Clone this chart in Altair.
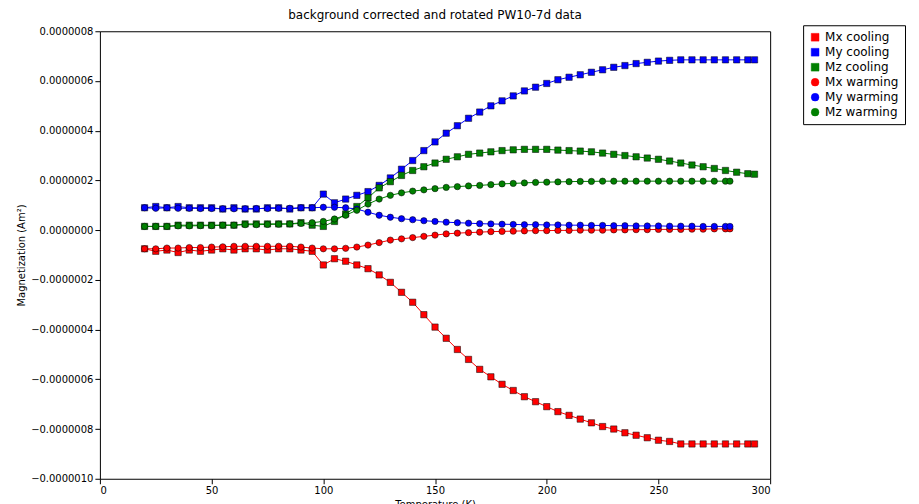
import altair as alt
import pandas as pd

# values in units of 1e-7 Am^2
T_COOL = list(range(20, 291, 5)) + [293]
T_WARM = list(range(20, 281, 5)) + [282]

MX_COOL = [-0.75, -0.85, -0.8, -0.9, -0.8, -0.85, -0.8, -0.75, -0.8, -0.75, -0.75, -0.8, -0.75, -0.75, -0.8, -0.85,
           -1.4, -1.15, -1.25, -1.4, -1.55, -1.8, -2.1, -2.5, -2.9, -3.4, -3.9, -4.35, -4.8, -5.2, -5.6, -5.9,
           -6.2, -6.45, -6.7, -6.9, -7.1, -7.3, -7.45, -7.6, -7.75, -7.9, -8.0, -8.15, -8.25, -8.35, -8.45, -8.5,
           -8.6, -8.6, -8.6, -8.6, -8.6, -8.6, -8.6, -8.6]
MY_COOL = [0.9, 0.95, 0.9, 0.95, 0.9, 0.9, 0.9, 0.85, 0.9, 0.85, 0.85, 0.9, 0.9, 0.85, 0.9, 0.9,
           1.45, 1.1, 1.25, 1.4, 1.55, 1.8, 2.1, 2.45, 2.8, 3.2, 3.55, 3.9, 4.2, 4.5, 4.75, 5.0,
           5.2, 5.4, 5.6, 5.75, 5.9, 6.05, 6.15, 6.25, 6.35, 6.45, 6.55, 6.62, 6.7, 6.75, 6.8, 6.83,
           6.85, 6.85, 6.85, 6.85, 6.85, 6.85, 6.85, 6.85]
MZ_COOL = [0.15, 0.15, 0.15, 0.2, 0.2, 0.2, 0.2, 0.2, 0.2, 0.25, 0.25, 0.25, 0.25, 0.25, 0.3, 0.2,
           0.15, 0.35, 0.65, 0.95, 1.3, 1.7, 1.95, 2.2, 2.4, 2.55, 2.7, 2.85, 2.95, 3.05, 3.1, 3.15,
           3.2, 3.23, 3.25, 3.25, 3.25, 3.22, 3.2, 3.18, 3.15, 3.1, 3.05, 3.0, 2.95, 2.9, 2.85, 2.78,
           2.7, 2.62, 2.55, 2.48, 2.4, 2.33, 2.27, 2.25]
MX_WARM = [-0.75, -0.75, -0.72, -0.72, -0.7, -0.7, -0.68, -0.67, -0.65, -0.65, -0.65, -0.65, -0.65, -0.65, -0.68, -0.72,
           -0.75, -0.75, -0.73, -0.68, -0.6, -0.5, -0.4, -0.35, -0.3, -0.25, -0.2, -0.15, -0.12, -0.1, -0.08, -0.06,
           -0.05, -0.04, -0.03, -0.02, -0.02, -0.01, -0.01, 0.0, 0.0, 0.0, 0.01, 0.01, 0.02, 0.02, 0.03, 0.03,
           0.03, 0.04, 0.04, 0.05, 0.05, 0.05]
MY_WARM = [0.9, 0.88, 0.9, 0.88, 0.88, 0.87, 0.87, 0.86, 0.86, 0.86, 0.87, 0.87, 0.88, 0.88, 0.9, 0.9,
           0.92, 0.92, 0.9, 0.85, 0.72, 0.6, 0.52, 0.46, 0.42, 0.38, 0.35, 0.32, 0.3, 0.28, 0.26, 0.25,
           0.24, 0.23, 0.22, 0.22, 0.21, 0.21, 0.2, 0.2, 0.19, 0.19, 0.18, 0.18, 0.17, 0.17, 0.17, 0.16,
           0.16, 0.16, 0.15, 0.15, 0.15, 0.15]
MZ_WARM = [0.15, 0.15, 0.15, 0.17, 0.17, 0.18, 0.18, 0.2, 0.2, 0.22, 0.22, 0.23, 0.24, 0.25, 0.27, 0.3,
           0.35, 0.45, 0.6, 0.8, 1.05, 1.25, 1.4, 1.5, 1.57, 1.62, 1.67, 1.72, 1.75, 1.78, 1.8, 1.83,
           1.86, 1.88, 1.9, 1.92, 1.93, 1.94, 1.95, 1.96, 1.96, 1.97, 1.97, 1.97, 1.97, 1.97, 1.97, 1.97,
           1.97, 1.97, 1.97, 1.97, 1.97, 1.97]

SERIES = ["Mx cooling", "My cooling", "Mz cooling", "Mx warming", "My warming", "Mz warming"]
COLORS = ["#ff0000", "#0000ff", "#008000", "#ff0000", "#0000ff", "#008000"]
SHAPES = ["square", "square", "square", "circle", "circle", "circle"]

rows = []
for name, temps, vals in [
    ("Mx cooling", T_COOL, MX_COOL), ("My cooling", T_COOL, MY_COOL), ("Mz cooling", T_COOL, MZ_COOL),
    ("Mx warming", T_WARM, MX_WARM), ("My warming", T_WARM, MY_WARM), ("Mz warming", T_WARM, MZ_WARM),
]:
    for t, v in zip(temps, vals):
        rows.append({"serie": name, "T": t, "M": v * 1e-7})
df = pd.DataFrame(rows)

color = alt.Color("serie:N", sort=SERIES, scale=alt.Scale(domain=SERIES, range=COLORS),
                  legend=alt.Legend(title=None, orient="none", legendX=704, legendY=-6,
                                    fillColor="white", strokeColor="black", padding=6,
                                    labelFontSize=12, symbolSize=60, rowPadding=3,
                                    labelFont="DejaVu Sans", symbolStrokeColor="black",
                                    symbolStrokeWidth=0.5))
shape = alt.Shape("serie:N", sort=SERIES, scale=alt.Scale(domain=SERIES, range=SHAPES), legend=None)
x = alt.X("T:Q", title="Temperature (K)", scale=alt.Scale(domain=[0, 300], nice=False),
          axis=alt.Axis(values=list(range(0, 301, 50)), grid=False))
y = alt.Y("M:Q", title="Magnetization (Am\u00b2)", scale=alt.Scale(domain=[-1e-6, 8e-7], nice=False),
          axis=alt.Axis(values=[i * 2e-7 for i in range(-5, 5)], format=".7f", grid=False))

base = alt.Chart(df)
lines = base.mark_line(strokeWidth=1).encode(x=x, y=y, color=color, detail="serie:N")
points = base.mark_point(filled=True, size=40, stroke="black", strokeWidth=0.5, opacity=1).encode(
    x=x, y=y, color=color, shape=shape)

chart = (lines + points).properties(
    width=671, height=448,
    title=alt.TitleParams("background corrected and rotated PW10-7d data", fontSize=12,
                          fontWeight="normal", font="DejaVu Sans", offset=3),
    padding={"left": 8, "top": 0, "right": 5, "bottom": 5},
).configure_view(stroke="black", strokeWidth=1).configure_axis(
    labelFont="DejaVu Sans", titleFont="DejaVu Sans", labelFontSize=10, titleFontSize=10,
    titleFontWeight="normal", domain=False, tickColor="black", labelColor="black", titleColor="black",
)

chart.save("out.html", embed_options={"renderer": "svg", "actions": False})
